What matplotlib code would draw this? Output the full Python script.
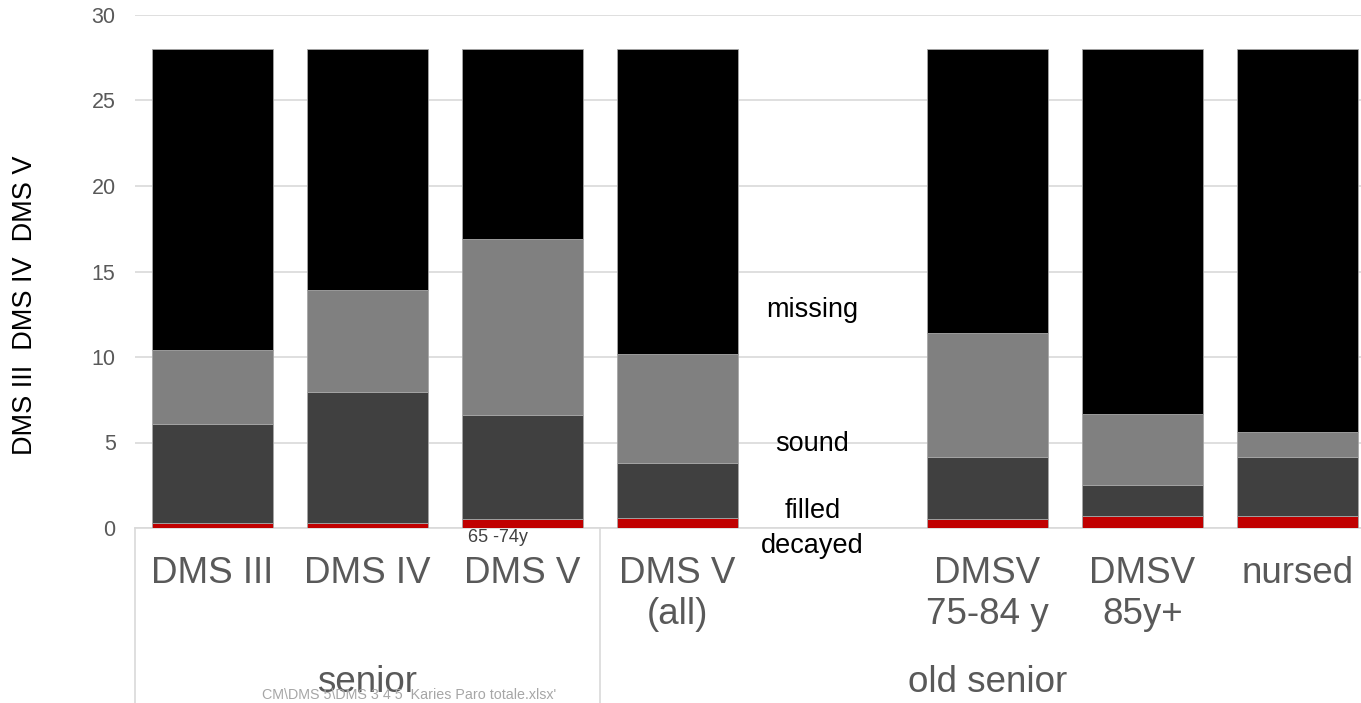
import matplotlib.pyplot as plt
import numpy as np

plt.rcParams['font.family'] = ['Liberation Sans', 'DejaVu Sans']

# ---------- DATA ----------
categories = ["DMS III", "DMS IV", "DMS V", "DMS V\n(all)", "",
              "DMSV\n75-84 y", "DMSV\n85y+", "nursed"]
decayed = [0.3, 0.3, 0.5, 0.6, np.nan, 0.5, 0.7, 0.7]
filled = [5.8, 7.65, 6.1, 3.2, np.nan, 3.65, 1.8, 3.45]
sound = [4.3, 5.95, 10.3, 6.4, np.nan, 7.25, 4.15, 1.45]
missing = [17.6, 14.1, 11.1, 17.8, np.nan, 16.6, 21.35, 22.4]
groups = ["senior", "old senior"]
series_names = ["decayed", "filled", "sound", "missing"]
yticks = [0, 5, 10, 15, 20, 25, 30]

# ---------- PLOTTING ----------
W, H = 1361, 703
fig = plt.figure(figsize=(W / 100, H / 100), dpi=100)
ax = fig.add_axes([135 / W, (H - 528) / H, 1240 / W, 513 / H])

x = np.arange(len(categories))
colors = ["#C00000", "#404040", "#808080", "#000000"]
bottom = np.zeros(len(categories))
for vals, c in zip([decayed, filled, sound, missing], colors):
    v = np.array(vals, dtype=float)
    ax.bar(x, v, width=0.787, bottom=bottom, color=c,
           edgecolor="#a6a6a6", linewidth=0.6, zorder=3)
    bottom = bottom + np.nan_to_num(v)

ax.set_xlim(-0.5, len(categories) - 0.5)
ax.set_ylim(0, 30)
ax.set_yticks(yticks)
ax.set_xticks([])
ax.yaxis.grid(True, color="#d9d9d9", linewidth=1.2, zorder=0)
ax.tick_params(axis='y', length=0, pad=14, labelsize=15.5, labelcolor="#595959")
for s in ["top", "right", "left"]:
    ax.spines[s].set_visible(False)
ax.spines["bottom"].set_color("#d9d9d9")
ax.spines["bottom"].set_linewidth(1.2)


def ypx(p):
    # figure pixel row -> axes y fraction
    return (528 - p) / 513.0


# multi-level category axis
tr = ax.get_xaxis_transform()
for i, lab in enumerate(categories):
    if lab:
        ax.text(i, ypx(556), lab, transform=tr, ha="center", va="top",
                fontsize=26.5, color="#595959", linespacing=1.22)

ax.text(1, ypx(683), groups[0], transform=tr, ha="center", va="center",
        fontsize=26.5, color="#595959")
ax.text(5, ypx(683), groups[1], transform=tr, ha="center", va="center",
        fontsize=26.5, color="#595959")
for xb in [-0.5, 2.5, 7.5]:
    ax.plot([xb, xb], [0, ypx(720)], transform=tr, color="#d9d9d9",
            linewidth=1.2, clip_on=False)

# series labels in the empty slot
label_y = [ypx(546), ypx(511), ypx(444), ypx(310)]
for name, yy in zip(series_names, label_y):
    ax.text(4 - 0.13, yy, name, transform=tr, ha="center", va="center",
            fontsize=19.5, color="black")

ax.text(2 - 0.16, ypx(537), "65 -74y", transform=tr, ha="center",
        va="center", fontsize=13, color="#404040")

fig.text(25 / W, 1 - 305 / H, "DMS III  DMS IV  DMS V", rotation=90,
         ha="center", va="center", fontsize=19.5, color="black")
fig.text(262 / W, 1 - 695 / H, "CM\\DMS 5\\DMS 3 4 5  Karies Paro totale.xlsx'",
         ha="left", va="center", fontsize=10.3, color="#a6a6a6")

fig.savefig("out.png", dpi=100)
